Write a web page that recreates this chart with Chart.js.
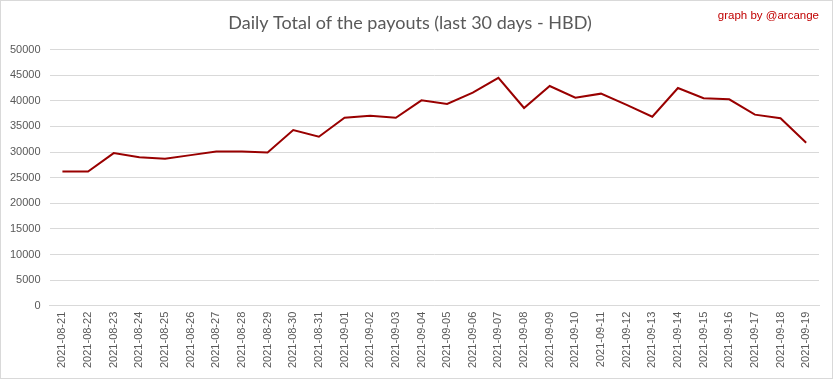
<!DOCTYPE html>
<html>
<head>
<meta charset="utf-8">
<script src="https://cdn.jsdelivr.net/npm/chart.js@4"></script>
<style>
html,body{margin:0;padding:0;background:#fff;}
#wrap{position:absolute;left:0;top:0;width:831px;height:377px;border:1px solid #d9d9d9;}
canvas{display:block;}
</style>
</head>
<body>
<div id="wrap"><canvas id="c" width="831" height="377"></canvas></div>
<script>
const categories = ["2021-08-21","2021-08-22","2021-08-23","2021-08-24","2021-08-25","2021-08-26","2021-08-27","2021-08-28","2021-08-29","2021-08-30","2021-08-31","2021-09-01","2021-09-02","2021-09-03","2021-09-04","2021-09-05","2021-09-06","2021-09-07","2021-09-08","2021-09-09","2021-09-10","2021-09-11","2021-09-12","2021-09-13","2021-09-14","2021-09-15","2021-09-16","2021-09-17","2021-09-18","2021-09-19"];
const payouts = [26200,26200,29800,29000,28700,29400,30100,30100,29900,34300,33000,36700,37100,36700,40100,39400,41600,44500,38600,42900,40600,41400,39200,36900,42500,40500,40300,37300,36600,31800];
const titleText = "Daily Total of the payouts (last 30 days - HBD)";
const creditText = "graph by @arcange";

const creditPlugin = {
  id: 'credit',
  afterDraw(chart) {
    const ctx = chart.ctx;
    ctx.save();
    ctx.font = '11.5px "Liberation Sans", Arial, sans-serif';
    ctx.fillStyle = '#c00000';
    ctx.textAlign = 'right';
    ctx.textBaseline = 'middle';
    ctx.fillText(creditText, 818, 15);
    ctx.restore();
  }
};

new Chart(document.getElementById('c'), {
  type: 'line',
  data: {
    labels: categories,
    datasets: [{
      data: payouts,
      borderColor: '#990000',
      borderWidth: 2,
      pointRadius: 0,
      tension: 0,
      fill: false
    }]
  },
  options: {
    responsive: false,
    animation: false,
    layout: { padding: { left: 0, right: 13, top: 0, bottom: 4 } },
    plugins: {
      legend: { display: false },
      tooltip: { enabled: false },
      title: {
        display: true,
        text: titleText,
        color: '#595959',
        font: { family: 'Lato, "Open Sans", sans-serif', size: 18, weight: 'normal' },
        padding: { top: 11, bottom: 16 }
      }
    },
    scales: {
      x: {
        offset: true,
        grid: { display: false, drawTicks: false },
        border: { display: true, color: '#d9d9d9' },
        ticks: {
          color: '#595959',
          font: { family: '"Liberation Sans", Arial, sans-serif', size: 11 },
          minRotation: 90, maxRotation: 90,
          autoSkip: false,
          padding: 6
        }
      },
      y: {
        min: 0, max: 50000,
        grid: { color: '#d9d9d9', drawTicks: false },
        border: { display: false },
        ticks: {
          stepSize: 5000,
          color: '#595959',
          font: { family: '"Liberation Sans", Arial, sans-serif', size: 11 },
          padding: 9,
          callback: v => String(v)
        }
      }
    }
  },
  plugins: [creditPlugin]
});
</script>
</body>
</html>
